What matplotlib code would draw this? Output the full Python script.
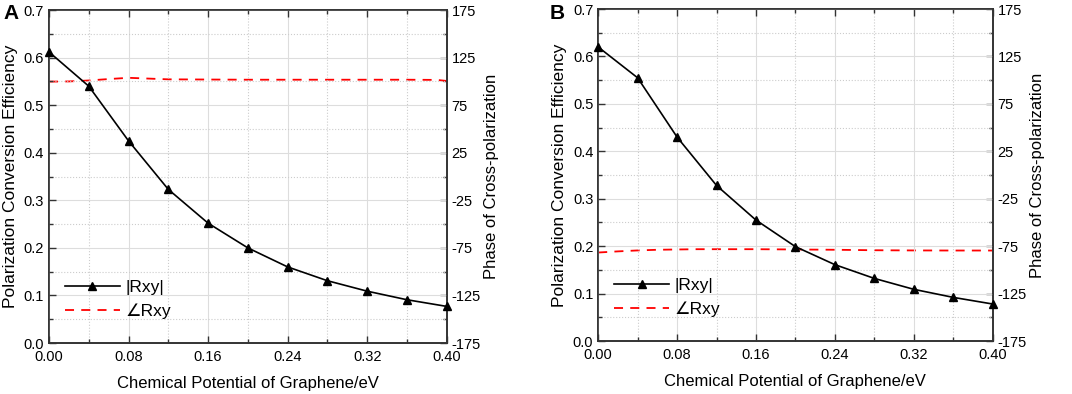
import matplotlib.pyplot as plt
import numpy as np
from matplotlib.ticker import MultipleLocator

plt.rcParams['font.family'] = ['Liberation Sans', 'DejaVu Sans']
plt.rcParams['axes.unicode_minus'] = False

# chemical potential (eV)
mu = [0.00, 0.04, 0.08, 0.12, 0.16, 0.20, 0.24, 0.28, 0.32, 0.36, 0.40]

# |Rxy| for panel A and B
rxy_a = [0.612, 0.540, 0.425, 0.323, 0.252, 0.200, 0.160, 0.131, 0.109, 0.091, 0.077]
rxy_b = [0.620, 0.555, 0.430, 0.328, 0.255, 0.199, 0.161, 0.132, 0.109, 0.092, 0.078]

# phase of cross-polarization (deg)
mu_phase = [0.00, 0.02, 0.04, 0.06, 0.08, 0.10, 0.12, 0.16, 0.20, 0.24, 0.28, 0.32, 0.36, 0.39, 0.40]
phase_a = [99.8, 100.0, 101.0, 102.5, 103.8, 103.0, 102.2, 102.0, 101.8, 101.8, 101.8, 101.8, 101.8, 101.6, 100.5]
phase_b = [-81.7, -80.5, -79.5, -78.8, -78.5, -78.2, -78.2, -78.2, -78.5, -78.8, -79.3, -79.5, -79.6, -79.6, -79.6]

fig = plt.figure(figsize=(10.72, 3.94), dpi=100)

panels = [
    ('A', 0.003, [0.0457, 0.1294, 0.371, 0.845], rxy_a, phase_a),
    ('B', 0.513, [0.558, 0.1345, 0.368, 0.8425], rxy_b, phase_b),
]

for tag, tx, rect, rxy, phase in panels:
    ax = fig.add_axes(rect)
    ax2 = ax.twinx()
    ax.set_zorder(ax2.get_zorder() + 1)
    ax.patch.set_visible(False)

    l1, = ax.plot(mu, rxy, '-', color='black', lw=1.2, marker='^', ms=6,
                  clip_on=False, zorder=5, label='|Rxy|')
    l2, = ax2.plot(mu_phase, phase, '--', color='red', lw=1.3,
                   dashes=(5, 4), label='\u2220Rxy')

    ax.set_xlim(0, 0.40)
    ax.set_ylim(0, 0.7)
    ax2.set_ylim(-175, 175)

    ax.xaxis.set_major_locator(MultipleLocator(0.08))
    ax.xaxis.set_minor_locator(MultipleLocator(0.04))
    ax.yaxis.set_major_locator(MultipleLocator(0.1))
    ax.yaxis.set_minor_locator(MultipleLocator(0.05))
    ax2.set_yticks(np.arange(-175, 176, 50))
    ax2.set_yticks(np.arange(-150, 176, 50), minor=True)
    ax.xaxis.set_major_formatter(plt.FormatStrFormatter('%.2f'))
    ax.yaxis.set_major_formatter(plt.FormatStrFormatter('%.1f'))

    ax.grid(True, which='major', color='#dddddd', ls='-', lw=0.8)
    ax.grid(True, which='minor', color='#cccccc', ls=':', lw=0.8)
    ax.set_axisbelow(True)

    for a in (ax, ax2):
        a.tick_params(which='both', direction='in', labelsize=10.5, width=1,
                      color='#333333')
        a.tick_params(which='major', length=5)
        a.tick_params(which='minor', length=3)
        for s in a.spines.values():
            s.set_linewidth(1.2)
            s.set_color('#333333')
    ax.tick_params(axis='x', which='both', top=True, pad=5)

    ax.set_xlabel('Chemical Potential of Graphene/eV', fontsize=12, labelpad=9)
    ax.set_ylabel('Polarization Conversion Efficiency', fontsize=12.5, labelpad=4)
    ax2.set_ylabel('Phase of Cross-polarization', fontsize=12, labelpad=2)

    ax.legend(handles=[l1, l2], loc='lower left', bbox_to_anchor=(0.0, 0.025),
              frameon=False, fontsize=12.5, handlelength=3.2, handletextpad=0.3,
              labelspacing=0.5)

    fig.text(tx, 0.965, tag, fontsize=15, fontweight='bold',
             va='center', ha='left')

plt.savefig('out.png', dpi=100)
